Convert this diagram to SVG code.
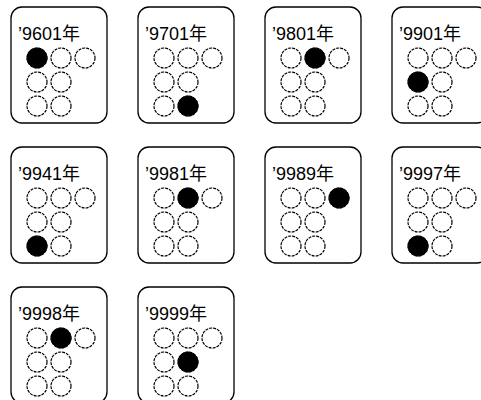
<svg xmlns="http://www.w3.org/2000/svg" width="481" height="400" viewBox="0 0 481 400">
<defs>
<style>
.card{fill:#fff;stroke:#000;stroke-width:1.3}
.lbl{font-family:"Liberation Sans","Noto Sans CJK JP",sans-serif;font-size:18px;fill:#000}
.o{fill:#fff;stroke:#000;stroke-width:1.2;stroke-dasharray:3 1}
.f{fill:#000;stroke:#000;stroke-width:1}
</style>
<g id="grid">
<circle class="o" cx="26" cy="51" r="10"/><circle class="o" cx="50" cy="51" r="10"/><circle class="o" cx="74" cy="51" r="10"/>
<circle class="o" cx="26" cy="75" r="10"/><circle class="o" cx="50" cy="75" r="10"/>
<circle class="o" cx="26" cy="99" r="10"/><circle class="o" cx="50" cy="99" r="10"/>
</g>
</defs>
<rect width="481" height="400" fill="#fff"/>
<g id="card9601" transform="translate(11,7)"><rect class="card" x="0" y="0" width="96" height="116" rx="11"/><text class="lbl" x="7" y="33">’9601年</text><use href="#grid"/><circle class="f" cx="26" cy="51" r="10"/></g>
<g id="card9701" transform="translate(138,7)"><rect class="card" x="0" y="0" width="96" height="116" rx="11"/><text class="lbl" x="7" y="33">’9701年</text><use href="#grid"/><circle class="f" cx="50" cy="99" r="10"/></g>
<g id="card9801" transform="translate(265,7)"><rect class="card" x="0" y="0" width="96" height="116" rx="11"/><text class="lbl" x="7" y="33">’9801年</text><use href="#grid"/><circle class="f" cx="50" cy="51" r="10"/></g>
<g id="card9901" transform="translate(392,7)"><rect class="card" x="0" y="0" width="96" height="116" rx="11"/><text class="lbl" x="7" y="33">’9901年</text><use href="#grid"/><circle class="f" cx="26" cy="75" r="10"/></g>
<g id="card9941" transform="translate(11,147)"><rect class="card" x="0" y="0" width="96" height="116" rx="11"/><text class="lbl" x="7" y="33">’9941年</text><use href="#grid"/><circle class="f" cx="26" cy="99" r="10"/></g>
<g id="card9981" transform="translate(138,147)"><rect class="card" x="0" y="0" width="96" height="116" rx="11"/><text class="lbl" x="7" y="33">’9981年</text><use href="#grid"/><circle class="f" cx="50" cy="51" r="10"/></g>
<g id="card9989" transform="translate(265,147)"><rect class="card" x="0" y="0" width="96" height="116" rx="11"/><text class="lbl" x="7" y="33">’9989年</text><use href="#grid"/><circle class="f" cx="74" cy="51" r="10"/></g>
<g id="card9997" transform="translate(392,147)"><rect class="card" x="0" y="0" width="96" height="116" rx="11"/><text class="lbl" x="7" y="33">’9997年</text><use href="#grid"/><circle class="f" cx="26" cy="99" r="10"/></g>
<g id="card9998" transform="translate(11,287)"><rect class="card" x="0" y="0" width="96" height="116" rx="11"/><text class="lbl" x="7" y="33">’9998年</text><use href="#grid"/><circle class="f" cx="50" cy="51" r="10"/></g>
<g id="card9999" transform="translate(138,287)"><rect class="card" x="0" y="0" width="96" height="116" rx="11"/><text class="lbl" x="7" y="33">’9999年</text><use href="#grid"/><circle class="f" cx="50" cy="75" r="10"/></g>
<g id="connectors"/>
</svg>
